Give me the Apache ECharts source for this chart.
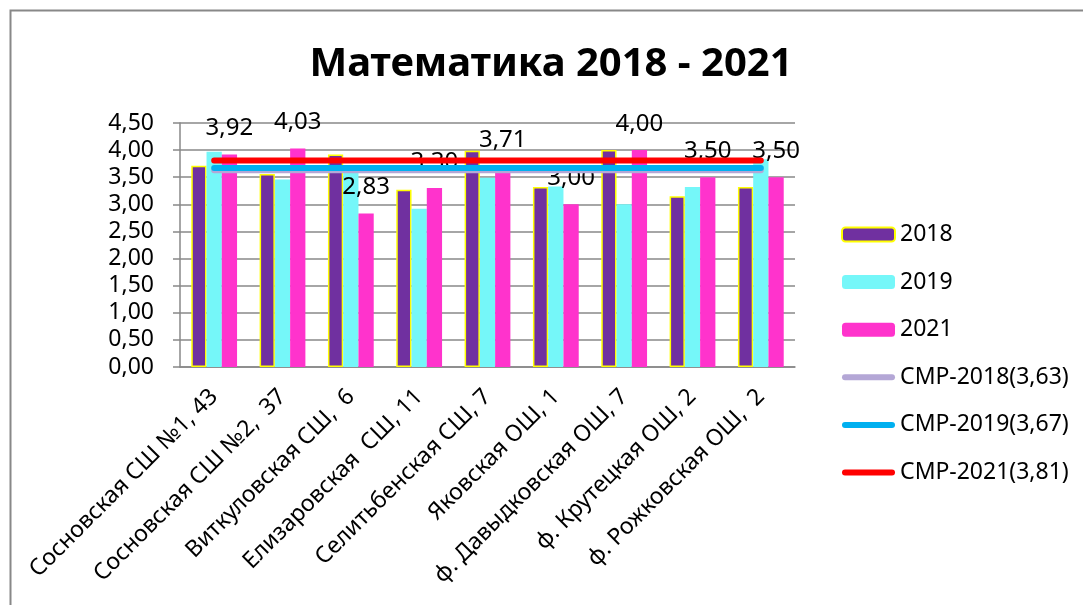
<!DOCTYPE html>
<html>
<head>
<meta charset="utf-8">
<script src="https://cdn.jsdelivr.net/npm/echarts@6/dist/echarts.min.js"></script>
<style>
html,body{margin:0;padding:0;background:#fff;}
#chart{width:1083px;height:605px;}
</style>
</head>
<body>
<div id="chart"></div>
<script>
var schools = ['Сосновская СШ №1, 43', 'Сосновская СШ №2,  37', 'Виткуловская СШ,  6', 'Елизаровская  СШ, 11',
    'Селитьбенская СШ, 7', 'Яковская ОШ, 1', 'ф. Давыдковская ОШ, 7', 'ф. Крутецкая ОШ, 2', 'ф. Рожковская ОШ,  2'];
var y2018 = [3.71, 3.56, 3.92, 3.27, 3.99, 3.32, 4.00, 3.15, 3.32];
var y2019 = [3.97, 3.46, 3.72, 2.92, 3.49, 3.33, 3.00, 3.32, 3.83];
var y2021 = [3.92, 4.03, 2.83, 3.30, 3.71, 3.00, 4.00, 3.50, 3.50];
var cmr2018 = [3.63, 3.63, 3.63, 3.63, 3.63, 3.63, 3.63, 3.63, 3.63];
var cmr2019 = [3.67, 3.67, 3.67, 3.67, 3.67, 3.67, 3.67, 3.67, 3.67];
var cmr2021 = [3.81, 3.81, 3.81, 3.81, 3.81, 3.81, 3.81, 3.81, 3.81];

var font = 'Noto Sans';
// legend icon for the average lines: a thick bar with round ends
var lineIcon = 'path://M3,0 L50,0 A3,3 0 0 1 50,6 L3,6 A3,3 0 0 1 3,0 Z';

function comma(v){
    return Number(v).toFixed(2).replace('.', ',');
}

var chart = echarts.init(document.getElementById('chart'));
var option = {
    backgroundColor: '#fff',
    animation: false,
    textStyle: {fontFamily: font},
    title: {
        text: 'Математика 2018 - 2021',
        left: 546,
        textAlign: 'center',
        top: 40,
        textStyle: {fontFamily: font, fontWeight: 'bold', fontSize: 40, color: '#000'}
    },
    graphic: [{
        type: 'rect',
        shape: {x: 10.5, y: 10.5, width: 1090, height: 620},
        style: {fill: null, stroke: '#888', lineWidth: 2},
        silent: true
    }],
    legend: {
        orient: 'vertical',
        left: 836,
        top: 218,
        itemWidth: 53,
        itemHeight: 14,
        itemGap: 24.6,
        textStyle: {fontFamily: font, fontSize: 23, color: '#000'},
        data: [
            {name: '2018'},
            {name: '2019'},
            {name: '2021'},
            {name: 'СМР-2018(3,63)', icon: lineIcon},
            {name: 'СМР-2019(3,67)', icon: lineIcon},
            {name: 'СМР-2021(3,81)', icon: lineIcon}
        ]
    },
    grid: {left: 180, right: 288, top: 123, bottom: 238},
    xAxis: {
        type: 'category',
        data: schools,
        axisLine: {lineStyle: {color: '#888', width: 1.5}},
        axisTick: {length: 6, lineStyle: {color: '#888', width: 1.5}},
        axisLabel: {rotate: 45, fontSize: 23, color: '#000', margin: 26, interval: 0}
    },
    yAxis: {
        type: 'value',
        min: 0,
        max: 4.5,
        interval: 0.5,
        axisLine: {show: true, lineStyle: {color: '#888', width: 1.5}},
        axisTick: {show: true, length: 7, lineStyle: {color: '#888', width: 1.5}},
        splitLine: {lineStyle: {color: '#888', width: 1.5}},
        axisLabel: {fontSize: 23, color: '#000', margin: 26, formatter: comma}
    },
    series: [{
        name: '2018',
        type: 'bar',
        data: y2018,
        barGap: 0,
        barCategoryGap: '33%',
        itemStyle: {color: '#7030A0', borderColor: '#FFFF00', borderWidth: 1.5}
    }, {
        name: '2019',
        type: 'bar',
        data: y2019,
        itemStyle: {color: '#75F7F9'}
    }, {
        name: '2021',
        type: 'bar',
        data: y2021,
        itemStyle: {color: '#FF33CC'},
        label: {
            show: true,
            position: 'top',
            distance: 14,
            fontSize: 24,
            color: '#000',
            formatter: function(p){ return comma(p.value); }
        }
    }, {
        name: 'СМР-2018(3,63)',
        type: 'line',
        data: cmr2018,
        symbol: 'none',
        z: 5,
        itemStyle: {color: '#B4A7D6'},
        lineStyle: {color: '#B4A7D6', width: 6, cap: 'round'}
    }, {
        name: 'СМР-2019(3,67)',
        type: 'line',
        data: cmr2019,
        symbol: 'none',
        z: 6,
        itemStyle: {color: '#00B0F0'},
        lineStyle: {color: '#00B0F0', width: 6, cap: 'round'}
    }, {
        name: 'СМР-2021(3,81)',
        type: 'line',
        data: cmr2021,
        symbol: 'none',
        z: 7,
        itemStyle: {color: '#FF0000'},
        lineStyle: {color: '#FF0000', width: 6, cap: 'round'}
    }]
};
chart.setOption(option);
</script>
</body>
</html>
